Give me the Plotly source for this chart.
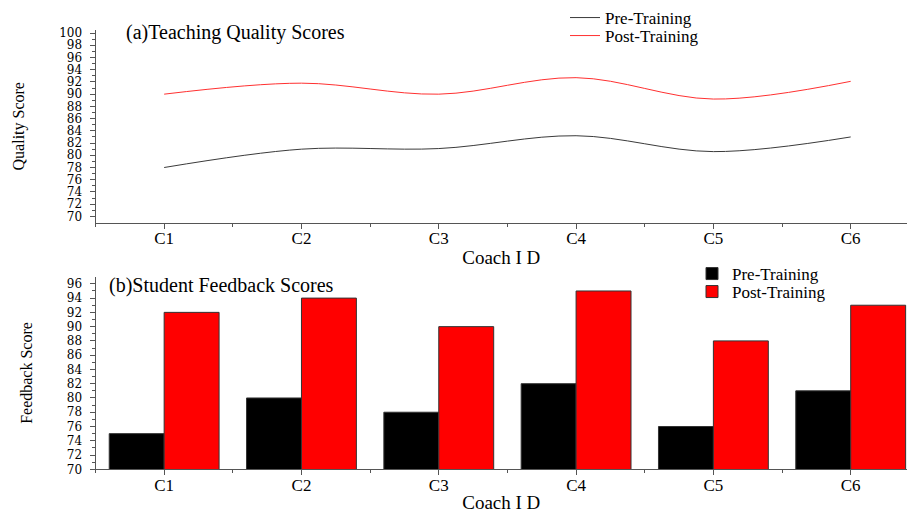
import plotly.graph_objects as go

coaches = ["C1", "C2", "C3", "C4", "C5", "C6"]
quality_pre = [78, 81, 81.1, 83.2, 80.6, 83]
quality_post = [90, 91.8, 90, 92.7, 89.2, 92.1]
feedback_pre = [75, 80, 78, 82, 76, 81]
feedback_post = [92, 94, 90, 95, 88, 93]
quality_ticks = list(range(70, 101, 2))
feedback_ticks = list(range(70, 97, 2))

xpos = list(range(len(coaches)))
W, H = 907, 513
SERIF = "Liberation Serif, Times New Roman, serif"
TICKF = "DejaVu Serif, serif"
AX = "#555555"

def px(xw):
    return xw / W

def py(yw):
    return 1 - yw / H

fig = go.Figure()
fig.add_trace(go.Scatter(x=xpos, y=quality_pre, mode="lines", name="Pre-Training",
                         line=dict(color="#3a3a3a", width=1, shape="spline"),
                         xaxis="x", yaxis="y", legend="legend", showlegend=True))
fig.add_trace(go.Scatter(x=xpos, y=quality_post, mode="lines", name="Post-Training",
                         line=dict(color="#ff3030", width=1, shape="spline"),
                         xaxis="x", yaxis="y", legend="legend3", showlegend=True))
fig.add_trace(go.Bar(x=xpos, y=feedback_pre, name="Pre-Training",
                     marker=dict(color="black", line=dict(color="#333", width=1)),
                     xaxis="x2", yaxis="y2", legend="legend2", showlegend=True))
fig.add_trace(go.Bar(x=xpos, y=feedback_post, name="Post-Training",
                     marker=dict(color="red", line=dict(color="#333", width=1)),
                     xaxis="x2", yaxis="y2", legend="legend4", showlegend=True))

xdom = [px(95.5), 1.0]
top_dom = [py(222.5), py(30)]
bot_dom = [py(469.3), py(276.7)]

def xaxis_cfg(anchor):
    return dict(domain=xdom, anchor=anchor, range=[-0.5, 5.41], tickmode="array",
                tickvals=xpos, ticktext=coaches, ticks="outside", ticklen=5, tickwidth=1,
                tickcolor=AX, showline=True, linecolor=AX, linewidth=1, showgrid=False,
                zeroline=False, tickfont=dict(family=SERIF, size=17, color="black"),
                ticklabelstandoff=-5,
                minor=dict(tickvals=[i + 0.5 for i in xpos] + [-0.5], ticks="outside",
                           ticklen=3, tickcolor=AX, showgrid=False),
                title=dict(text="Coach I D", font=dict(family=SERIF, size=19, color="black"), standoff=3),
                automargin=False)

def yaxis_cfg(domain, anchor, rng, ticks, title):
    return dict(domain=domain, anchor=anchor, range=rng, tickmode="array", tickvals=ticks,
                ticks="outside", ticklen=5, tickwidth=1, tickcolor=AX, showline=True,
                linecolor=AX, linewidth=1, showgrid=False, zeroline=False,
                tickfont=dict(family=TICKF, size=12, color="black"), ticklabelstandoff=5,
                minor=dict(tickvals=[t + 1 for t in ticks[:-1]], ticks="outside", ticklen=3,
                           tickcolor=AX, showgrid=False),
                title=dict(text=title, font=dict(family=SERIF, size=16, color="black"), standoff=30),
                automargin=False)

def legend_cfg(text_x, row_y):
    return dict(x=px(text_x - 40), y=py(row_y - 18), xanchor="left", yanchor="top",
                font=dict(family=SERIF, size=17, color="black"), bgcolor="rgba(0,0,0,0)")

fig.update_layout(
    width=W, height=H,
    margin=dict(l=0, r=0, t=0, b=0),
    paper_bgcolor="white", plot_bgcolor="white",
    showlegend=True,
    barmode="group", bargap=0.2, bargroupgap=0,
    xaxis=xaxis_cfg("y"),
    yaxis=yaxis_cfg(top_dom, "x", [69, 100.5], quality_ticks, "Quality Score"),
    xaxis2=xaxis_cfg("y2"),
    yaxis2=yaxis_cfg(bot_dom, "x2", [70, 97], feedback_ticks, "Feedback Score"),
    legend=legend_cfg(605, 18),
    legend3=legend_cfg(605, 36),
    legend2=legend_cfg(732, 274),
    legend4=legend_cfg(732, 292),
    annotations=[
        dict(text="(a)Teaching Quality Scores", x=px(124), y=py(32), xref="paper", yref="paper",
             xanchor="left", yanchor="middle", showarrow=False,
             font=dict(family=SERIF, size=20, color="black")),
        dict(text="(b)Student Feedback Scores", x=px(107), y=py(285), xref="paper", yref="paper",
             xanchor="left", yanchor="middle", showarrow=False,
             font=dict(family=SERIF, size=20, color="black")),
    ],
)

fig.write_html("out.html", config={"displayModeBar": False},
               post_script="document.body.style.margin='0';document.body.style.overflow='hidden';")
